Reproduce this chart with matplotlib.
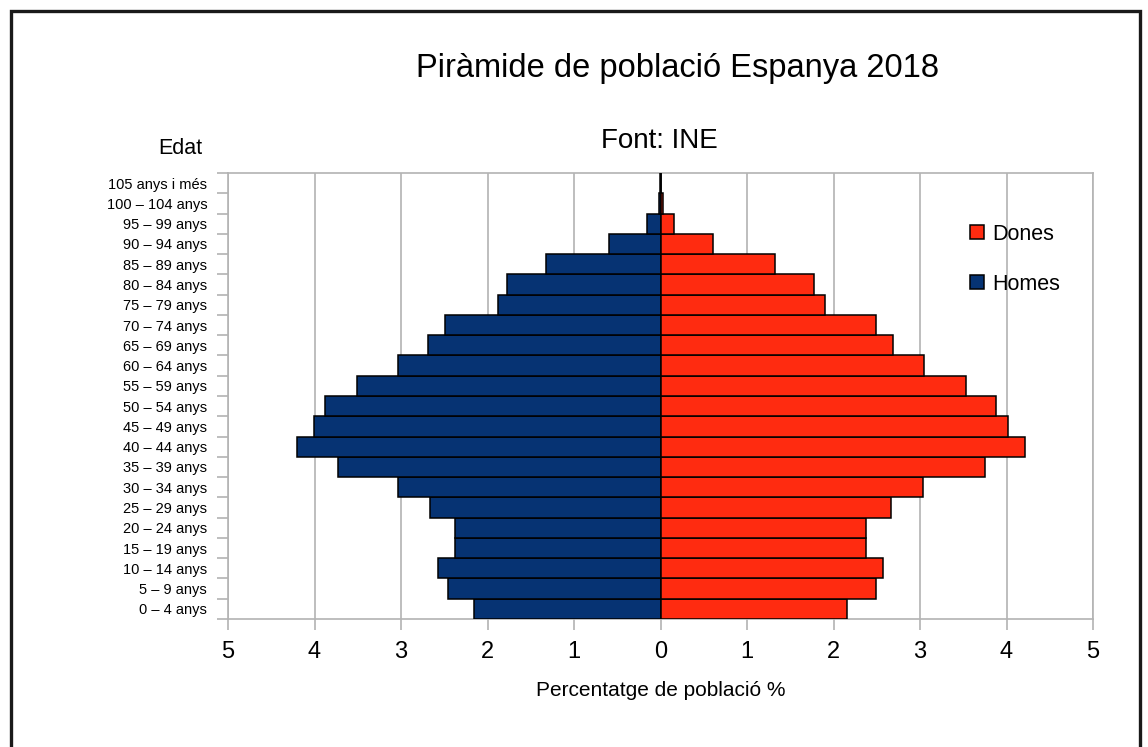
import matplotlib
matplotlib.use('Agg')
import matplotlib.pyplot as plt
from matplotlib.patches import Rectangle
from matplotlib.ticker import FixedLocator, FuncFormatter
import numpy as np

plt.rcParams['font.family'] = ['Liberation Sans', 'DejaVu Sans']

# age groups, bottom to top
edats = ['0 – 4 anys', '5 – 9 anys', '10 – 14 anys', '15 – 19 anys', '20 – 24 anys',
         '25 – 29 anys', '30 – 34 anys', '35 – 39 anys', '40 – 44 anys', '45 – 49 anys',
         '50 – 54 anys', '55 – 59 anys', '60 – 64 anys', '65 – 69 anys', '70 – 74 anys',
         '75 – 79 anys', '80 – 84 anys', '85 – 89 anys', '90 – 94 anys', '95 – 99 anys',
         '100 – 104 anys', '105 anys i més']
homes = [2.16, 2.46, 2.57, 2.37, 2.37, 2.66, 3.04, 3.73, 4.20, 4.01, 3.88,
         3.51, 3.04, 2.69, 2.49, 1.88, 1.77, 1.32, 0.60, 0.16, 0.015, 0.002]
dones = [2.16, 2.49, 2.57, 2.38, 2.38, 2.67, 3.03, 3.75, 4.21, 4.02, 3.88,
         3.53, 3.05, 2.69, 2.49, 1.90, 1.77, 1.32, 0.61, 0.16, 0.03, 0.005]
xticks = [-5, -4, -3, -2, -1, 0, 1, 2, 3, 4, 5]

col_h = '#063373'
col_d = '#ff2b10'
grey = '#b3b3b3'

fig = plt.figure(figsize=(11.48, 7.47), dpi=100, facecolor='w')
ax = fig.add_axes([228 / 1148, 1 - 619 / 747, (1093 - 228) / 1148, (619 - 173) / 747])

yy = np.arange(len(edats))
ax.barh(yy, -np.array(homes), height=1.0, color=col_h, edgecolor='black', linewidth=1.1,
        label='Homes', zorder=3)
ax.barh(yy, dones, height=1.0, color=col_d, edgecolor='black', linewidth=1.1,
        label='Dones', zorder=3)

ax.set_xlim(-5, 5)
ax.set_ylim(-0.5, len(edats) - 0.5)
ax.set_xticks(xticks)
ax.xaxis.set_major_formatter(FuncFormatter(lambda v, p: '%d' % abs(v)))
ax.tick_params(axis='x', length=8, width=1.2, color=grey, labelsize=17, pad=8)

ax.set_yticks(yy)
ax.set_yticklabels(edats)
ax.tick_params(axis='y', which='major', length=0, labelsize=10.5, pad=15)
ax.yaxis.set_minor_locator(FixedLocator(np.arange(len(edats) + 1) - 0.5))
ax.tick_params(axis='y', which='minor', length=8, width=1.2, color=grey)

ax.grid(axis='x', color=grey, linewidth=1.2, zorder=0)
for s in ax.spines.values():
    s.set_color(grey)
    s.set_linewidth(1.2)

ax.set_xlabel('Percentatge de població %', fontsize=15, labelpad=13)

handles, labels = ax.get_legend_handles_labels()
ax.legend(handles[::-1], labels[::-1], loc='upper left', bbox_to_anchor=(0.835, 0.93),
          frameon=False, fontsize=15.5, handlelength=0.65, handleheight=0.65,
          handletextpad=0.4, labelspacing=1.35)

fig.text(677 / 1148, 1 - 68 / 747, 'Piràmide de població Espanya 2018', fontsize=23.5,
         ha='center', va='center')
fig.text(659 / 1148, 1 - 141 / 747, 'Font: INE', fontsize=20, ha='center', va='center')
fig.text(180 / 1148, 1 - 149 / 747, 'Edat', fontsize=15.5, ha='center', va='center')

fig.patches.append(Rectangle((11 / 1148, -0.1), 1129 / 1148, 1.1 - 11 / 747,
                             transform=fig.transFigure, fill=False,
                             edgecolor='#1a1a1a', linewidth=2.4))

fig.savefig('out.png', dpi=100, facecolor='w')
